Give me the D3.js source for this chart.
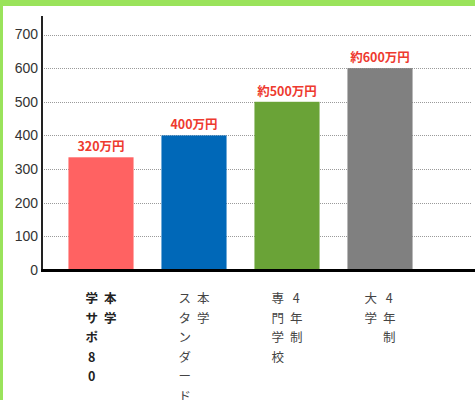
<!DOCTYPE html>
<html><head><meta charset="utf-8">
<script src="https://cdn.jsdelivr.net/npm/d3@7"></script>
<style>
html,body{margin:0;padding:0;background:#fff;}
svg{display:block;font-family:"Noto Sans CJK JP","Noto Sans",sans-serif;}
</style></head>
<body>
<script>
const categories = ["本学学サポ80", "本学スタンダード", "4年制専門学校", "4年制大学"];
const labelColumns = [["本学", "学サポ80"], ["本学", "スタンダード"], ["4年制", "専門学校"], ["4年制", "大学"]];
const values = [335, 400, 500, 600];
const valueLabels = ["320万円", "400万円", "約500万円", "約600万円"];
const barColors = ["#ff6262", "#0068b8", "#6aa337", "#808080"];
const yTicks = [0, 100, 200, 300, 400, 500, 600, 700];

const W = 475, H = 400;
const svg = d3.select("body").append("svg").attr("width", W).attr("height", H);

// green frame
svg.append("rect").attr("x",0).attr("y",0).attr("width",W).attr("height",6).attr("fill","#9ae35b");
svg.append("rect").attr("x",0).attr("y",0).attr("width",3).attr("height",H).attr("fill","#9ae35b");

const x0 = 42;
const x = d3.scaleBand().domain(categories).range([54.5, 426.5]).paddingInner(0.3).paddingOuter(0.15);
const y = d3.scaleLinear().domain([0, 700]).range([270, 34.5]);

// gridlines
svg.append("g").selectAll("line").data(yTicks.filter(d => d > 0)).join("line")
  .attr("x1", x0).attr("x2", 472)
  .attr("y1", d => Math.round(y(d)) + 0.5).attr("y2", d => Math.round(y(d)) + 0.5)
  .attr("stroke", "#9a9a9a").attr("stroke-width", 1).attr("stroke-dasharray", "1,1");

// y axis
const yAxis = d3.axisLeft(y).tickValues(yTicks).tickSize(0).tickPadding(4);
const gy = svg.append("g").attr("transform", `translate(${x0},0)`).call(yAxis);
gy.select(".domain").remove();
gy.selectAll("text").attr("font-size", 14).attr("fill", "#333").attr("font-family", "'Liberation Sans','DejaVu Sans',sans-serif");

// bars
svg.append("g").selectAll("rect").data(values).join("rect")
  .attr("x", (d, i) => x(categories[i]))
  .attr("width", x.bandwidth())
  .attr("y", d => y(d))
  .attr("height", d => y(0) - y(d))
  .attr("fill", (d, i) => barColors[i]);

// value labels
svg.append("g").selectAll("text").data(values).join("text")
  .attr("x", (d, i) => x(categories[i]) + x.bandwidth() / 2)
  .attr("y", d => y(d) - 6)
  .attr("text-anchor", "middle")
  .attr("font-size", 12.5).attr("font-weight", "bold")
  .attr("fill", "#ee3a2f")
  .text((d, i) => valueLabels[i]);

// axis lines
svg.append("line").attr("x1", x0).attr("x2", x0).attr("y1", 16).attr("y2", 271)
  .attr("stroke", "#222").attr("stroke-width", 2);
svg.append("line").attr("x1", x0 - 1).attr("x2", W).attr("y1", 270.5).attr("y2", 270.5)
  .attr("stroke", "#000").attr("stroke-width", 3);

// category labels (vertical, right-to-left columns)
const colGap = 18.5, charStep = 19.5;
labelColumns.forEach((cols, i) => {
  const cx = x(categories[i]) + x.bandwidth() / 2;
  cols.forEach((col, j) => {
    const colX = cx + colGap / 2 - j * colGap;
    const t = svg.append("text")
      .attr("text-anchor", "middle")
      .attr("font-size", 12.5)
      .attr("font-weight", i === 0 ? "bold" : "normal")
      .attr("fill", i === 0 ? "#222" : "#444");
    Array.from(col).forEach((ch, k) => {
      t.append("tspan").attr("x", colX).attr("y", 303 + k * charStep).text(ch);
    });
  });
});
</script>
</body></html>
